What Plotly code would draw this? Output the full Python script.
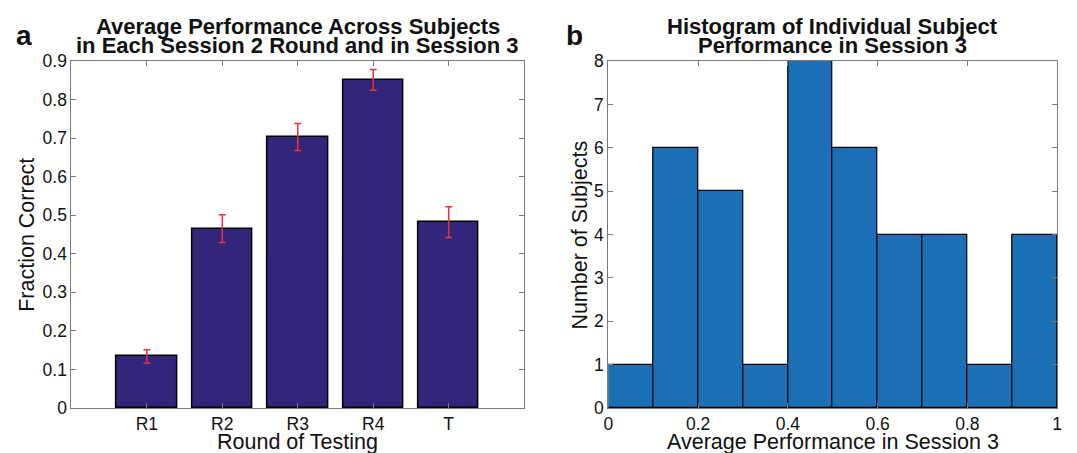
import plotly.graph_objects as go

# ---- data ----
rounds = ["R1", "R2", "R3", "R4", "T"]
fraction_correct = [0.134, 0.465, 0.703, 0.851, 0.482]
fraction_err = [0.017, 0.036, 0.035, 0.027, 0.040]

bin_centers = [0.05, 0.15, 0.25, 0.35, 0.45, 0.55, 0.65, 0.75, 0.85, 0.95]
subject_counts = [1, 6, 5, 1, 8, 6, 4, 4, 1, 4]

FONT = "Liberation Sans, Arial, Helvetica, sans-serif"
W, H = 1077, 453
T_M, B_M = 61, 45
PH = H - T_M - B_M

def px_y(y):
    return (H - B_M - y) / PH

def px_x(x):
    return x / W

fig = go.Figure()

fig.add_trace(go.Bar(
    x=rounds, y=fraction_correct, width=0.8,
    marker=dict(color="#312679", line=dict(color="#000000", width=1.5)),
    error_y=dict(type="data", array=fraction_err, color="#e8333a",
                 thickness=1.5, width=3.5),
    xaxis="x", yaxis="y", showlegend=False, hoverinfo="skip",
))

fig.add_trace(go.Bar(
    x=bin_centers, y=subject_counts, width=0.1,
    marker=dict(color="#1a6fb5", line=dict(color="#000000", width=1.2)),
    xaxis="x2", yaxis="y2", showlegend=False, hoverinfo="skip",
))

axis_common = dict(
    showline=True, linecolor="#7a7a7a", linewidth=1, mirror="allticks",
    ticks="inside", ticklen=5, tickcolor="#7a7a7a", tickwidth=1,
    showgrid=False, zeroline=False,
    tickfont=dict(family=FONT, size=17.5, color="#111111"),
)

fig.update_layout(
    width=W, height=H,
    margin=dict(l=0, r=0, t=T_M, b=B_M),
    paper_bgcolor="white", plot_bgcolor="white",
    font=dict(family=FONT, color="#111111"),
    bargap=0,
    xaxis=dict(domain=[px_x(67), px_x(524)], range=[-1, 5], type="category",
               anchor="y", **axis_common),
    yaxis=dict(domain=[0, 1], range=[0, 0.9], dtick=0.1, tick0=0,
               anchor="x", **axis_common),
    xaxis2=dict(domain=[px_x(609), px_x(1062)], range=[0, 1], dtick=0.2, tick0=0,
                anchor="y2", **axis_common),
    yaxis2=dict(domain=[0, 1], range=[0, 8], dtick=1, tick0=0,
                anchor="x2", **axis_common),
)

ann = []
def add_text(text, x, y, size, bold=False, angle=0):
    ann.append(dict(
        text=f"<b>{text}</b>" if bold else text,
        x=px_x(x), y=px_y(y), xref="paper", yref="paper",
        xanchor="center", yanchor="middle", showarrow=False,
        textangle=angle,
        font=dict(family=FONT, size=size, color="#111111"),
    ))

# titles
add_text("Average Performance Across Subjects", 295.5, 26, 22, bold=True)
add_text("in Each Session 2 Round and in Session 3", 295.5, 45, 22, bold=True)
add_text("Histogram of Individual Subject", 835.5, 26, 22, bold=True)
add_text("Performance in Session 3", 835.5, 45, 22, bold=True)
# panel letters
add_text("a", 19, 35, 28, bold=True)
add_text("b", 575, 35, 28, bold=True)
# axis titles
add_text("Round of Testing", 295.5, 442, 21.5)
add_text("Fraction Correct", 22, 235, 21.5, angle=-90)
add_text("Average Performance in Session 3", 835.5, 442, 21.5)
add_text("Number of Subjects", 580, 235, 21.5, angle=-90)

fig.update_layout(annotations=ann)

fig.write_html("out.html", config={"displayModeBar": False},
               post_script="document.body.style.margin='0px';")
